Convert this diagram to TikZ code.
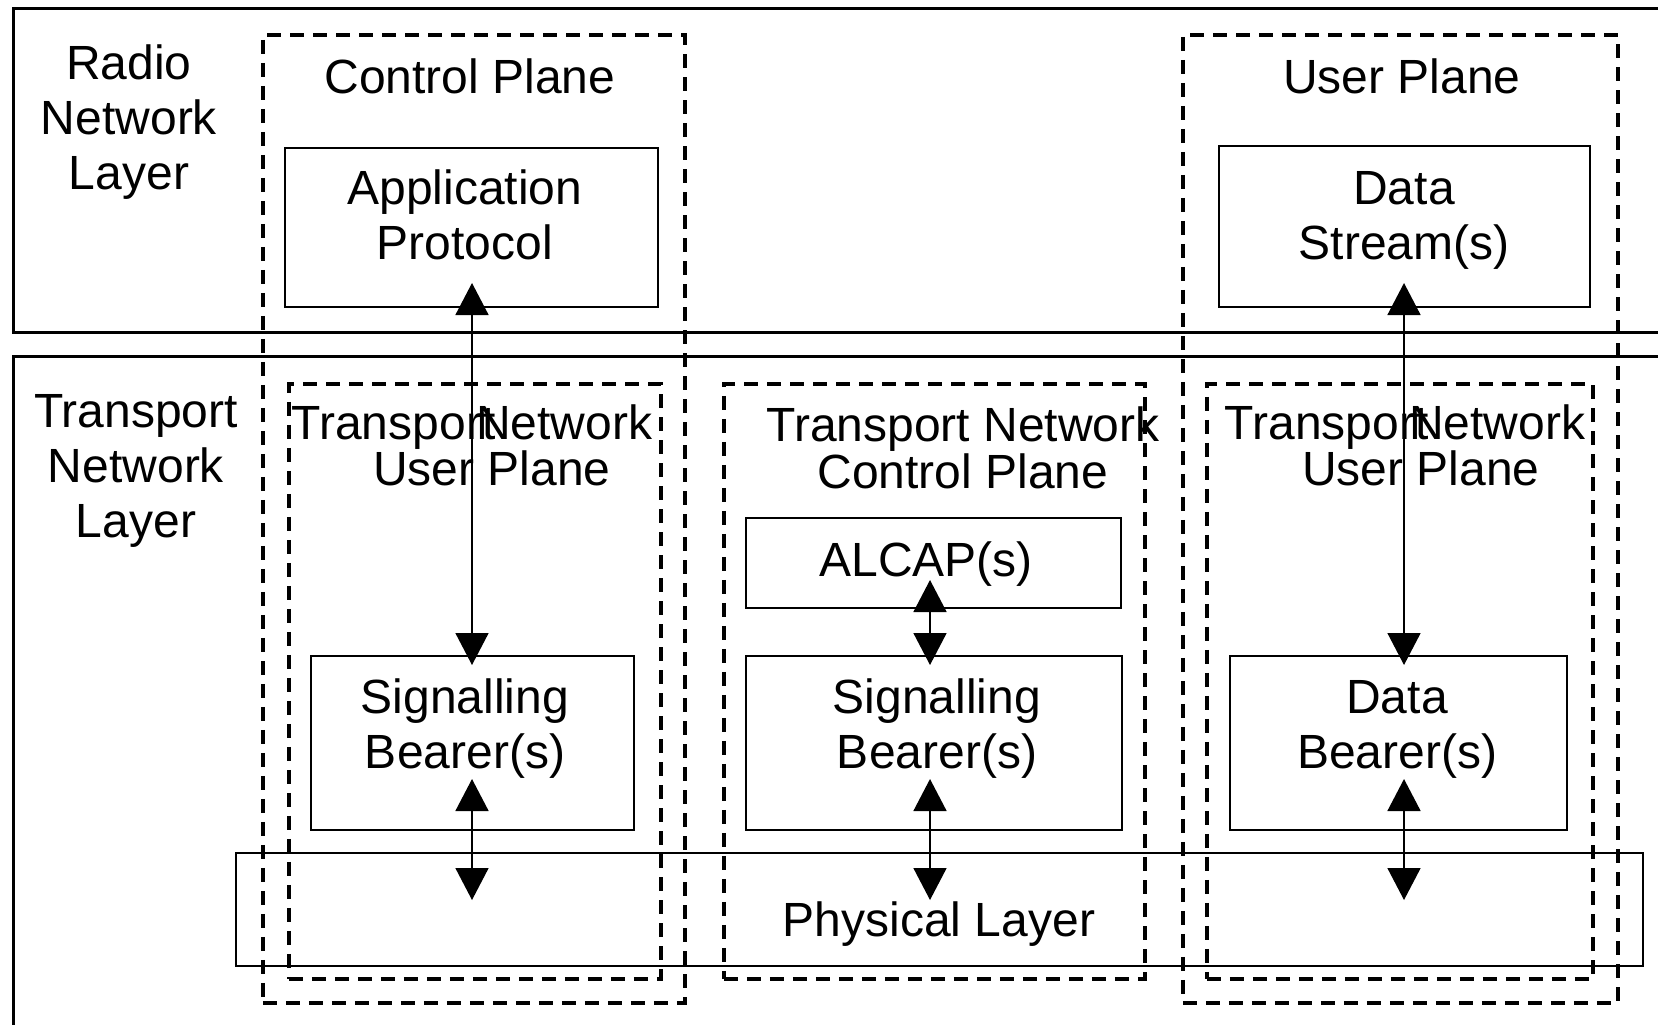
\documentclass[tikz,border=0pt]{standalone}
\usepackage{fontspec}
\setmainfont{Liberation Sans}
\usetikzlibrary{arrows.meta}
\begin{document}
\begin{tikzpicture}[x=0.5pt,y=-0.5pt,
  lbl/.style={inner sep=0pt, align=center, font=\fontsize{24}{27.5}\selectfont},
  tnlbl/.style={inner sep=0pt, align=center, font=\fontsize{24}{22}\selectfont},
  box/.style={draw, line width=0.8pt, inner sep=0pt, anchor=north west},
  layerbox/.style={draw, line width=1.3pt, inner sep=0pt, anchor=north west},
  planebox/.style={draw, line width=1.9pt, dash pattern=on 7pt off 4.5pt, inner sep=0pt, anchor=north west},
  conn/.style={line width=0.8pt, {Triangle[length=16pt,width=16.5pt]}-{Triangle[length=16pt,width=16.5pt]}}
]
\useasboundingbox (0,0) rectangle (1658,1024);
\clip (0,0) rectangle (1658,1024);

% layer boxes
\node[layerbox, minimum width=834pt, minimum height=162pt] (radio) at (12,7) {};
\node[layerbox, minimum width=834pt, minimum height=342.5pt] (transport) at (12,355) {};

% plane boxes (dashed)
\node[planebox, minimum width=211pt, minimum height=484pt] (cp) at (261,33) {};
\node[planebox, minimum width=217.5pt, minimum height=484pt] (up) at (1181,33) {};
\node[planebox, minimum width=186pt, minimum height=297.5pt] (tnup1) at (287,382) {};
\node[planebox, minimum width=210.5pt, minimum height=297.5pt] (tncp) at (722,382) {};
\node[planebox, minimum width=193pt, minimum height=297.5pt] (tnup2) at (1205,382) {};

% solid boxes
\node[box, minimum width=186.5pt, minimum height=79.5pt] (app) at (284,147) {};
\node[box, minimum width=185.5pt, minimum height=80.5pt] (ds) at (1218,145) {};
\node[box, minimum width=161.5pt, minimum height=87pt] (sb1) at (310,655) {};
\node[box, minimum width=187.5pt, minimum height=45pt] (alcap) at (745,517) {};
\node[box, minimum width=188pt, minimum height=87pt] (sb2) at (745,655) {};
\node[box, minimum width=168.5pt, minimum height=87pt] (db) at (1229,655) {};
\node[box, minimum width=703.5pt, minimum height=56.5pt] (phys) at (235,852) {};

% labels
\node[lbl] (rnl) at (129,122) {Radio\\Network\\Layer};
\node[lbl] (tnl) at (136,471) {Transport\\Network\\Layer};
\node[lbl] (cpl) at (470,76) {Control Plane};
\node[lbl] (upl) at (1402,76) {User Plane};
\node[lbl] (appl) at (465,215) {Application\\Protocol};
\node[lbl] (dsl) at (1404,220) {Data\\Stream(s)};
\node[lbl] (tnup1a) at (472,427) {Transport\hspace{-0.4em}Network};
\node[lbl] (tnup1b) at (492,468) {User Plane};
\node[lbl] (tnup2a) at (1405,427) {Transport\hspace{-0.4em}Network};
\node[lbl] (tnup2b) at (1421,468) {User Plane};
\node[tnlbl] (tncpl) at (963,448) {Transport Network\\Control Plane};
\node[lbl] (alcapl) at (926,564) {ALCAP(s)};
\node[lbl] (sb1l) at (465,729) {Signalling\\Bearer(s)};
\node[lbl] (sb2l) at (937,729) {Signalling\\Bearer(s)};
\node[lbl] (dbl) at (1397,729) {Data\\Bearer(s)};
\node[lbl] (physl) at (939,924) {Physical Layer};

% connector end points
\coordinate (a1t) at (472,283);
\coordinate (a1b) at (472,665);
\coordinate (a2t) at (472,779);
\coordinate (a2b) at (472,900);
\coordinate (m1t) at (930,580);
\coordinate (m1b) at (930,665);
\coordinate (m2t) at (930,779);
\coordinate (m2b) at (930,900);
\coordinate (r1t) at (1404,283);
\coordinate (r1b) at (1404,665);
\coordinate (r2t) at (1404,779);
\coordinate (r2b) at (1404,900);

\draw[conn] (a1t) -- (a1b);
\draw[conn] (a2t) -- (a2b);
\draw[conn] (m1t) -- (m1b);
\draw[conn] (m2t) -- (m2b);
\draw[conn] (r1t) -- (r1b);
\draw[conn] (r2t) -- (r2b);
\end{tikzpicture}
\end{document}
